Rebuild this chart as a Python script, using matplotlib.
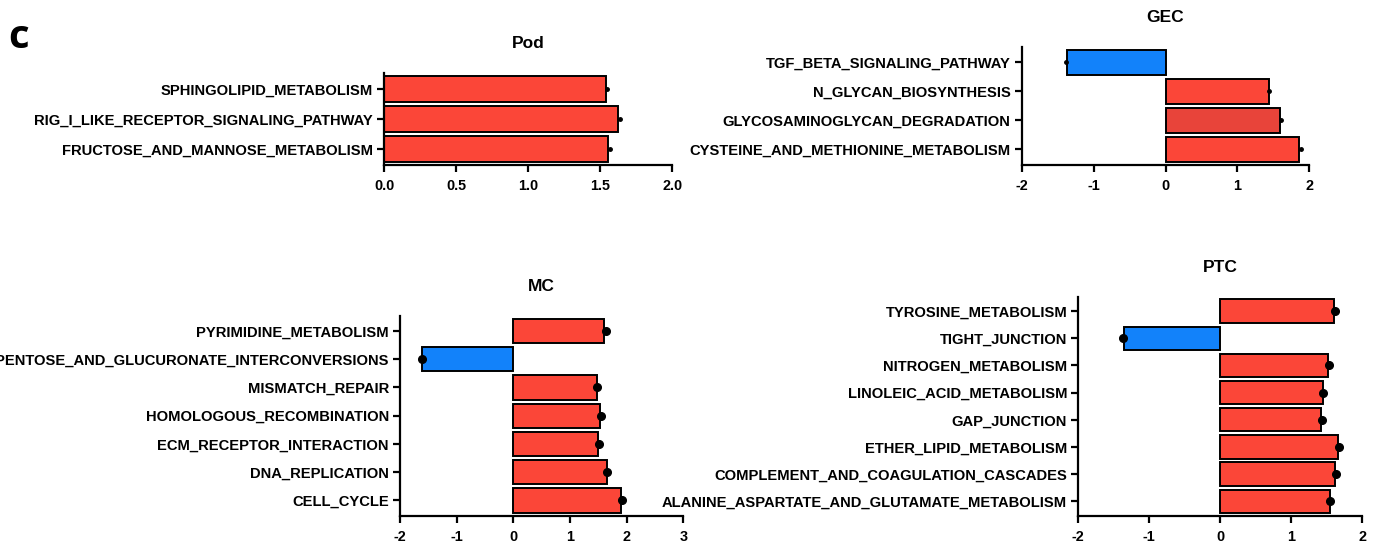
import matplotlib
matplotlib.use("Agg")
import matplotlib.pyplot as plt

# ---------------- data ----------------
pod_terms = ["SPHINGOLIPID_METABOLISM",
             "RIG_I_LIKE_RECEPTOR_SIGNALING_PATHWAY",
             "FRUCTOSE_AND_MANNOSE_METABOLISM"]
pod_nes = [1.537, 1.623, 1.556]
pod_pts = [1.544, 1.634, 1.565]
pod_ticks = [0.0, 0.5, 1.0, 1.5, 2.0]
pod_ticklabels = ["0.0", "0.5", "1.0", "1.5", "2.0"]

gec_terms = ["TGF_BETA_SIGNALING_PATHWAY",
             "N_GLYCAN_BIOSYNTHESIS",
             "GLYCOSAMINOGLYCAN_DEGRADATION",
             "CYSTEINE_AND_METHIONINE_METABOLISM"]
gec_nes = [-1.367, 1.437, 1.590, 1.863]
gec_pts = [-1.386, 1.446, 1.608, 1.882]
gec_ticks = [-2, -1, 0, 1, 2]

mc_terms = ["PYRIMIDINE_METABOLISM",
            "PENTOSE_AND_GLUCURONATE_INTERCONVERSIONS",
            "MISMATCH_REPAIR",
            "HOMOLOGOUS_RECOMBINATION",
            "ECM_RECEPTOR_INTERACTION",
            "DNA_REPLICATION",
            "CELL_CYCLE"]
mc_nes = [1.60, -1.606, 1.47, 1.53, 1.49, 1.65, 1.90]
mc_pts = [1.63, -1.62, 1.48, 1.55, 1.51, 1.66, 1.92]
mc_ticks = [-2, -1, 0, 1, 2, 3]

ptc_terms = ["TYROSINE_METABOLISM",
             "TIGHT_JUNCTION",
             "NITROGEN_METABOLISM",
             "LINOLEIC_ACID_METABOLISM",
             "GAP_JUNCTION",
             "ETHER_LIPID_METABOLISM",
             "COMPLEMENT_AND_COAGULATION_CASCADES",
             "ALANINE_ASPARTATE_AND_GLUTAMATE_METABOLISM"]
ptc_nes = [1.60, -1.357, 1.52, 1.44, 1.42, 1.657, 1.62, 1.54]
ptc_pts = [1.617, -1.371, 1.53, 1.45, 1.43, 1.676, 1.63, 1.55]
ptc_ticks = [-2, -1, 0, 1, 2]

# ---------------- style ----------------
plt.rcParams["font.family"] = ["Liberation Sans", "DejaVu Sans"]
plt.rcParams["font.weight"] = "bold"

RED = "#FB4638"
RED_DARK = "#E8443A"
BLUE = "#1282FA"

W, H = 1387, 552
fig = plt.figure(figsize=(W / 100, H / 100), dpi=100)


def px_axes(left, right, top, bottom):
    return fig.add_axes([left / W, 1 - bottom / H, (right - left) / W, (bottom - top) / H])


def panel(ax, title, terms, nes, pts, ticks, ticklabels=None, dot_size=2.5, colors=None):
    n = len(terms)
    ys = list(range(n))
    if colors is None:
        colors = [RED if v >= 0 else BLUE for v in nes]
    ax.barh(ys, nes, height=0.86, color=colors, edgecolor="black", linewidth=1.4, zorder=2)
    ax.plot(pts, ys, "o", color="black", markersize=dot_size, zorder=3, clip_on=False)
    ax.set_yticks(ys)
    ax.set_yticklabels(terms, fontsize=10.6, fontweight="bold")
    ax.set_ylim(n - 1 + 0.54, -0.53)
    ax.set_xticks(ticks)
    if ticklabels is None:
        ticklabels = [str(t) for t in ticks]
    ax.set_xticklabels(ticklabels, fontsize=10.4, fontweight="bold")
    ax.set_xlim(ticks[0], ticks[-1])
    for s in ("top", "right"):
        ax.spines[s].set_visible(False)
    for s in ("left", "bottom"):
        ax.spines[s].set_linewidth(1.6)
    ax.tick_params(axis="both", width=1.6, length=5, pad=3, colors="black")
    ax.tick_params(axis="x", pad=5)
    ax.set_title(title, fontsize=12.5, fontweight="bold", pad=18)


ax1 = px_axes(384.3, 672.3, 73.3, 165.3)
panel(ax1, "Pod", pod_terms, pod_nes, pod_pts, pod_ticks, pod_ticklabels, dot_size=2.5)

ax2 = px_axes(1021.7, 1309.3, 46.7, 165.0)
gec_colors = [BLUE, RED, RED_DARK, RED]
panel(ax2, "GEC", gec_terms, gec_nes, gec_pts, gec_ticks, dot_size=2.5, colors=gec_colors)

ax3 = px_axes(400.0, 683.3, 316.0, 515.7)
panel(ax3, "MC", mc_terms, mc_nes, mc_pts, mc_ticks, dot_size=5.5)

ax4 = px_axes(1078.3, 1362.3, 296.7, 516.0)
panel(ax4, "PTC", ptc_terms, ptc_nes, ptc_pts, ptc_ticks, dot_size=5.5)

fig.text(8 / W, 1 - 37 / H, "c", fontsize=29, fontweight="bold",
         family=["Open Sans", "DejaVu Sans"], va="center", ha="left")

fig.savefig("out.png", dpi=100)
